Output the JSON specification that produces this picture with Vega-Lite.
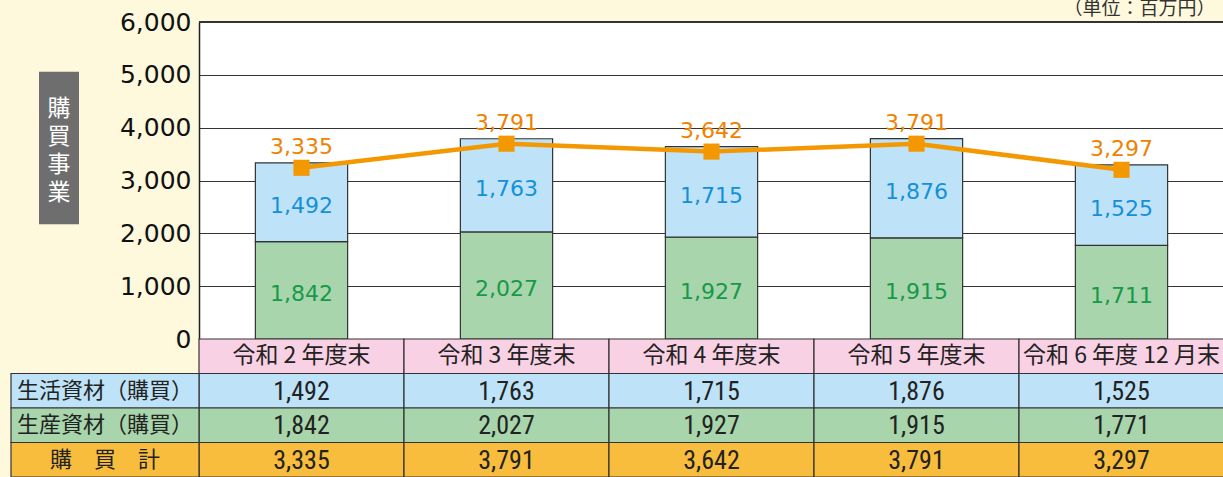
{
  "$schema": "https://vega.github.io/schema/vega-lite/v6.json",
  "background": "#fef9dc",
  "padding": {"left": 10, "top": 0, "right": 0, "bottom": 0},
  "spacing": 0,
  "bounds": "flush",
  "resolve": {"scale": {"color": "independent", "fill": "independent"}},
  "config": {"view": {"stroke": null}, "font": "Noto Sans CJK JP"},
  "datasets": {
    "bars": [
      {"year": "令和 2 年度末", "type": "生産資材", "value": 1842, "label": "1,842"},
      {"year": "令和 2 年度末", "type": "生活資材", "value": 1492, "label": "1,492"},
      {"year": "令和 3 年度末", "type": "生産資材", "value": 2027, "label": "2,027"},
      {"year": "令和 3 年度末", "type": "生活資材", "value": 1763, "label": "1,763"},
      {"year": "令和 4 年度末", "type": "生産資材", "value": 1927, "label": "1,927"},
      {"year": "令和 4 年度末", "type": "生活資材", "value": 1715, "label": "1,715"},
      {"year": "令和 5 年度末", "type": "生産資材", "value": 1915, "label": "1,915"},
      {"year": "令和 5 年度末", "type": "生活資材", "value": 1876, "label": "1,876"},
      {"year": "令和 6 年度 12 月末", "type": "生産資材", "value": 1771, "label": "1,711"},
      {"year": "令和 6 年度 12 月末", "type": "生活資材", "value": 1525, "label": "1,525"}
    ],
    "totals": [
      {"year": "令和 2 年度末", "total": 3335},
      {"year": "令和 3 年度末", "total": 3791},
      {"year": "令和 4 年度末", "total": 3642},
      {"year": "令和 5 年度末", "total": 3791},
      {"year": "令和 6 年度 12 月末", "total": 3297}
    ],
    "header": [
      {"year": "令和 2 年度末"},
      {"year": "令和 3 年度末"},
      {"year": "令和 4 年度末"},
      {"year": "令和 5 年度末"},
      {"year": "令和 6 年度 12 月末"}
    ],
    "cells": [
      {"row": "生活資材（購買）", "year": "令和 2 年度末", "text": "1,492"},
      {"row": "生活資材（購買）", "year": "令和 3 年度末", "text": "1,763"},
      {"row": "生活資材（購買）", "year": "令和 4 年度末", "text": "1,715"},
      {"row": "生活資材（購買）", "year": "令和 5 年度末", "text": "1,876"},
      {"row": "生活資材（購買）", "year": "令和 6 年度 12 月末", "text": "1,525"},
      {"row": "生産資材（購買）", "year": "令和 2 年度末", "text": "1,842"},
      {"row": "生産資材（購買）", "year": "令和 3 年度末", "text": "2,027"},
      {"row": "生産資材（購買）", "year": "令和 4 年度末", "text": "1,927"},
      {"row": "生産資材（購買）", "year": "令和 5 年度末", "text": "1,915"},
      {"row": "生産資材（購買）", "year": "令和 6 年度 12 月末", "text": "1,771"},
      {"row": "購　買　計", "year": "令和 2 年度末", "text": "3,335"},
      {"row": "購　買　計", "year": "令和 3 年度末", "text": "3,791"},
      {"row": "購　買　計", "year": "令和 4 年度末", "text": "3,642"},
      {"row": "購　買　計", "year": "令和 5 年度末", "text": "3,791"},
      {"row": "購　買　計", "year": "令和 6 年度 12 月末", "text": "3,297"}
    ],
    "rowLabels": [
      {"row": "生活資材（購買）"},
      {"row": "生産資材（購買）"},
      {"row": "購　買　計"}
    ]
  },
  "vconcat": [
    {
      "width": 1025,
      "height": 317,
      "view": {"fill": "white", "stroke": null},
      "resolve": {"scale": {"x": "independent"}},
      "layer": [
        {
          "layer": [
            {
              "data": {"name": "bars"},
              "mark": {"type": "bar", "stroke": "#333333", "strokeWidth": 1.2},
              "encoding": {
                "x": {"field": "year", "type": "nominal", "axis": null,
                  "scale": {"domain": ["令和 2 年度末", "令和 3 年度末", "令和 4 年度末", "令和 5 年度末", "令和 6 年度 12 月末"], "paddingInner": 0.55, "paddingOuter": 0.275}},
                "y": {"field": "value", "type": "quantitative", "stack": "zero",
                  "scale": {"domain": [0, 6000], "nice": false},
                  "axis": {"values": [0, 1000, 2000, 3000, 4000, 5000, 6000], "labelExpr": "format(datum.value, ',')", "title": null,
                    "labelFont": "DejaVu Sans", "labelFontSize": 25, "labelColor": "#111111", "labelPadding": 8,
                    "ticks": false, "labelFlush": false, "labelBound": false, "labelOverlap": false,
                    "domainColor": "#222222", "domainWidth": 1.5,
                    "grid": true, "gridColor": "#333333", "gridWidth": 1.2, "gridOpacity": 1}},
                "color": {"field": "type", "type": "nominal", "legend": null,
                  "scale": {"domain": ["生産資材", "生活資材"], "range": ["#a8d5ab", "#bee3f8"]}},
                "order": {"field": "type", "sort": "descending"}
              }
            },
            {
              "data": {"values": [{"v": 6000}]},
              "mark": {"type": "rule", "color": "#333333", "strokeWidth": 2.2},
              "encoding": {
                "y": {"field": "v", "type": "quantitative"}
              }
            },
            {
              "data": {"name": "bars"},
              "mark": {"type": "text", "font": "DejaVu Sans", "fontSize": 22, "baseline": "middle", "dy": 4},
              "encoding": {
                "x": {"field": "year", "type": "nominal"},
                "y": {"field": "value", "type": "quantitative", "stack": "zero", "bandPosition": 0.5},
                "fill": {"field": "type", "type": "nominal", "legend": null,
                  "scale": {"domain": ["生産資材", "生活資材"], "range": ["#17994a", "#1590d8"]}},
                "order": {"field": "type", "sort": "descending"},
                "text": {"field": "label"}
              }
            },
            {
              "data": {"name": "totals"},
              "mark": {"type": "line", "color": "#f39800", "strokeWidth": 4.5, "yOffset": 5},
              "encoding": {
                "x": {"field": "year", "type": "nominal"},
                "y": {"field": "total", "type": "quantitative"}
              }
            },
            {
              "data": {"name": "totals"},
              "mark": {"type": "square", "color": "#f39800", "size": 260, "opacity": 1, "yOffset": 5},
              "encoding": {
                "x": {"field": "year", "type": "nominal"},
                "y": {"field": "total", "type": "quantitative"}
              }
            },
            {
              "data": {"name": "totals"},
              "mark": {"type": "text", "font": "DejaVu Sans", "fontSize": 22, "color": "#ef8200", "baseline": "middle", "dy": -16},
              "encoding": {
                "x": {"field": "year", "type": "nominal"},
                "y": {"field": "total", "type": "quantitative"},
                "text": {"field": "total", "type": "quantitative", "format": ","}
              }
            },
            {
              "data": {"values": [{"unit": "（単位：百万円）"}]},
              "mark": {"type": "text", "fontSize": 19, "color": "#333333", "align": "right", "baseline": "top", "dx": 94},
              "encoding": {
                "x": {"datum": "令和 6 年度 12 月末", "type": "nominal"},
                "y": {"datum": 6416, "type": "quantitative"},
                "text": {"field": "unit"}
              }
            }
          ]
        },
        {
          "layer": [
            {
              "data": {"values": [{"t": "購買事業"}]},
              "mark": {"type": "rect", "color": "#6e6e6e"},
              "encoding": {
                "x": {"datum": 0, "type": "quantitative", "axis": null, "scale": {"domain": [0, 1], "range": [-160, -120]}},
                "x2": {"datum": 1},
                "y": {"datum": 2170, "type": "quantitative"},
                "y2": {"datum": 5056}
              }
            },
            {
              "data": {"values": [{"t": "購買事業"}]},
              "mark": {"type": "text", "fontSize": 23, "lineHeight": 28, "color": "white", "baseline": "middle", "align": "center",
                "text": ["購", "買", "事", "業"]},
              "encoding": {
                "x": {"datum": 0.5, "type": "quantitative"},
                "y": {"datum": 4350, "type": "quantitative"}
              }
            }
          ]
        }
      ]
    },
    {
      "width": 1025,
      "height": 138,
      "resolve": {"scale": {"x": "independent"}},
      "layer": [
        {
          "layer": [
            {
              "data": {"name": "header"},
              "mark": {"type": "rect", "stroke": "#333333", "strokeWidth": 1.2},
              "encoding": {
                "x": {"field": "year", "type": "nominal", "axis": null,
                  "scale": {"domain": ["令和 2 年度末", "令和 3 年度末", "令和 4 年度末", "令和 5 年度末", "令和 6 年度 12 月末"], "paddingInner": 0, "paddingOuter": 0}},
                "y": {"datum": "header", "type": "nominal", "axis": null,
                  "scale": {"domain": ["header", "生活資材（購買）", "生産資材（購買）", "購　買　計"], "paddingInner": 0, "paddingOuter": 0}},
                "color": {"datum": "header", "type": "nominal", "legend": null,
                  "scale": {"domain": ["header", "生活資材（購買）", "生産資材（購買）", "購　買　計"], "range": ["#f8d1e4", "#bee3f8", "#a8d5ab", "#f8bd3c"]}}
              }
            },
            {
              "data": {"name": "header"},
              "mark": {"type": "text", "fontSize": 23, "color": "#222222", "baseline": "middle"},
              "encoding": {
                "x": {"field": "year", "type": "nominal"},
                "y": {"datum": "header", "type": "nominal"},
                "text": {"field": "year"}
              }
            },
            {
              "data": {"name": "cells"},
              "mark": {"type": "rect", "stroke": "#333333", "strokeWidth": 1.2},
              "encoding": {
                "x": {"field": "year", "type": "nominal"},
                "y": {"field": "row", "type": "nominal"},
                "color": {"field": "row", "type": "nominal"}
              }
            },
            {
              "data": {"name": "cells"},
              "mark": {"type": "text", "font": "Liberation Sans Narrow, Roboto Condensed, Arial Narrow, sans-serif", "fontSize": 26, "color": "#222222", "baseline": "middle", "dy": 1},
              "encoding": {
                "x": {"field": "year", "type": "nominal"},
                "y": {"field": "row", "type": "nominal"},
                "text": {"field": "text"}
              }
            }
          ]
        },
        {
          "layer": [
            {
              "data": {"name": "rowLabels"},
              "mark": {"type": "rect", "stroke": "#333333", "strokeWidth": 1.2},
              "encoding": {
                "x": {"datum": 0, "type": "quantitative", "axis": null, "scale": {"domain": [0, 1], "range": [-188, 0]}},
                "x2": {"datum": 1},
                "y": {"field": "row", "type": "nominal"},
                "color": {"field": "row", "type": "nominal"}
              }
            },
            {
              "data": {"name": "rowLabels"},
              "mark": {"type": "text", "fontSize": 22, "color": "#222222", "baseline": "middle", "align": "center"},
              "encoding": {
                "x": {"datum": 0.5, "type": "quantitative"},
                "y": {"field": "row", "type": "nominal"},
                "text": {"field": "row"}
              }
            }
          ]
        }
      ]
    }
  ]
}
